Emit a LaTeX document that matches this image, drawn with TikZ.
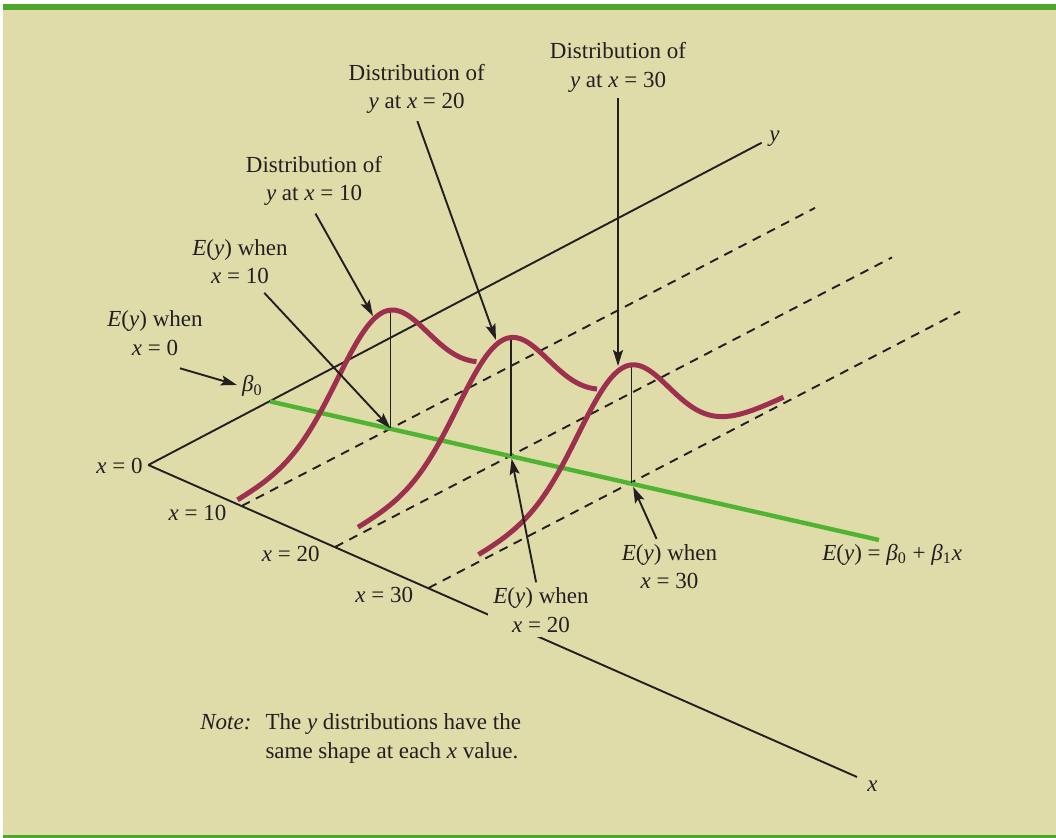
\documentclass[tikz,border=0pt]{standalone}
\usepackage{fontspec}
\setmainfont{Liberation Serif}
\usepackage{tikz}
\usetikzlibrary{arrows.meta}
\usepackage{xcolor}
\definecolor{khaki}{RGB}{223,220,170}
\definecolor{bargreen}{RGB}{76,167,44}
\definecolor{meangreen}{RGB}{80,180,50}
\definecolor{curvered}{RGB}{156,48,78}
\definecolor{inkblack}{RGB}{35,31,32}
\newcommand{\vx}{\textit{x}}
\newcommand{\vy}{\textit{y}}
\newcommand{\Ey}{\textit{E}(\textit{y})}

\begin{document}
\begin{tikzpicture}[x=0.5pt,y=-0.5pt,>={Stealth[length=8pt,width=5pt,inset=1.5pt]},
  font=\fontsize{11.5pt}{14.2pt}\selectfont,
  declare function={bump(\s)=108*exp(-0.5*pow((\s+8)/45,2))+12*exp(-0.5*pow((\s+8)/150,2));},
  axisline/.style={draw=inkblack,line width=0.95pt},
  guideline/.style={draw=inkblack,line width=0.95pt,dash pattern=on 4.5pt off 3.5pt},
  pointer/.style={->,inkblack,line width=0.95pt},
  lbl/.style={text=inkblack,fill=khaki,align=center,inner sep=2.5pt},
  tag/.style={text=inkblack,inner sep=0pt},
  distcurve/.style={draw=curvered,line width=2.5pt},
  meanline/.style={draw=meangreen,line width=2.2pt}]
% frame
\fill[white] (0,0) rectangle (1056,838);
\fill[khaki] (3,4) rectangle (1056,838);
\fill[bargreen] (3,4) rectangle (1056,10);
\fill[bargreen] (3,835) rectangle (1056,838);
% axes and guides
\coordinate (O) at (148.3,465);
\coordinate (yend) at (761.7,142.7);
\coordinate (xend) at (857,777);
\coordinate (t10) at (241.7,506);
\coordinate (t20) at (335.1,547);
\coordinate (t30) at (428.5,588);
\coordinate (g10) at (815,207.9);
\coordinate (g20) at (892,257.4);
\coordinate (g30) at (960,311.6);
\coordinate (b0pt) at (270,401.4);
\coordinate (m10) at (390.5,428.4);
\coordinate (m20) at (511,455.8);
\coordinate (m30) at (631.5,483.2);
\coordinate (mend) at (879,540);
\coordinate (p10) at (390.5,310.1);
\coordinate (p20) at (511,337.5);
\coordinate (p30) at (631.5,364.9);
\coordinate (c10) at (373,316);
\coordinate (c20) at (496,340);
\coordinate (c30) at (618,366);
\draw[axisline] (O) -- (yend);
\draw[axisline] (O) -- (xend);
\draw[guideline] (t10) -- (g10);
\draw[guideline] (t20) -- (g20);
\draw[guideline] (t30) -- (g30);
\draw[meanline] (b0pt) -- (mend);
\draw[axisline] (m10) -- (p10);
\draw[axisline] (m20) -- (p20);
\draw[axisline] (m30) -- (p30);
% the three normal curves
\draw[distcurve] plot[smooth,domain=-153:86,samples=60] ({390.5+\x},{428.4-0.52*(\x)-bump(\x)});
\draw[distcurve] plot[smooth,domain=-153:86,samples=60] ({511+\x},{455.8-0.52*(\x)-bump(\x)});
\draw[distcurve] plot[smooth,domain=-153:152,samples=70] ({631.5+\x},{483.2-0.52*(\x)-bump(\x)});
% labels
\node[tag,anchor=base east] (lx0) at (143,473.5) {\vx{} = 0};
\node[tag,anchor=base east] (lx10) at (226.7,521) {\vx{} = 10};
\node[tag,anchor=base east] (lx20) at (320,562) {\vx{} = 20};
\node[tag,anchor=base east] (lx30) at (413.5,603) {\vx{} = 30};
\node[tag,anchor=base west] (ly) at (769,142) {\vy};
\node[tag,anchor=base west] (lx) at (867,792) {\vx};
\node[tag,anchor=base west] (b0) at (241.7,392) {\textit{β}\textsubscript{0}};
\node[lbl] (d10) at (314,180.8) {Distribution of\\\vy{} at \vx{} = 10};
\node[lbl] (d20) at (416.7,89.1) {Distribution of\\\vy{} at \vx{} = 20};
\node[lbl] (d30) at (618,67.5) {Distribution of\\\vy{} at \vx{} = 30};
\node[lbl] (e0) at (155,333.3) {\Ey{} when\\\vx{} = 0};
\node[lbl] (e10) at (240,261.5) {\Ey{} when\\\vx{} = 10};
\node[lbl] (e20) at (541,610) {\Ey{} when\\\vx{} = 20};
\node[lbl] (e30) at (669.5,566.6) {\Ey{} when\\\vx{} = 30};
\node[tag,anchor=base west] (eq) at (822,560.3) {\Ey{} = \textit{β}\textsubscript{0} + \textit{β}\textsubscript{1}\vx};
\node[tag,anchor=base west] (note) at (200,730) {\begin{tabular}[t]{@{}l@{\hspace{7pt}}l@{}}\textit{Note:} & The \vy{} distributions have the\\ & same shape at each \vx{} value.\end{tabular}};
% pointers
\draw[pointer,shorten <=13pt,shorten >=2.5pt] (e0.south) -- (b0.west);
\draw[pointer,shorten <=2.5pt] (e10.-53) -- (m10);
\draw[pointer,shorten >=1.5pt] (e20.100) -- (m20);
\draw[pointer,shorten >=2pt] (e30.115) -- (m30);
\draw[pointer,shorten <=1.5pt] (d10.south) -- (c10);
\draw[pointer,shorten <=1pt] (d20.south) -- (c20);
\draw[pointer] (d30.south) -- (c30);
\end{tikzpicture}
\end{document}
